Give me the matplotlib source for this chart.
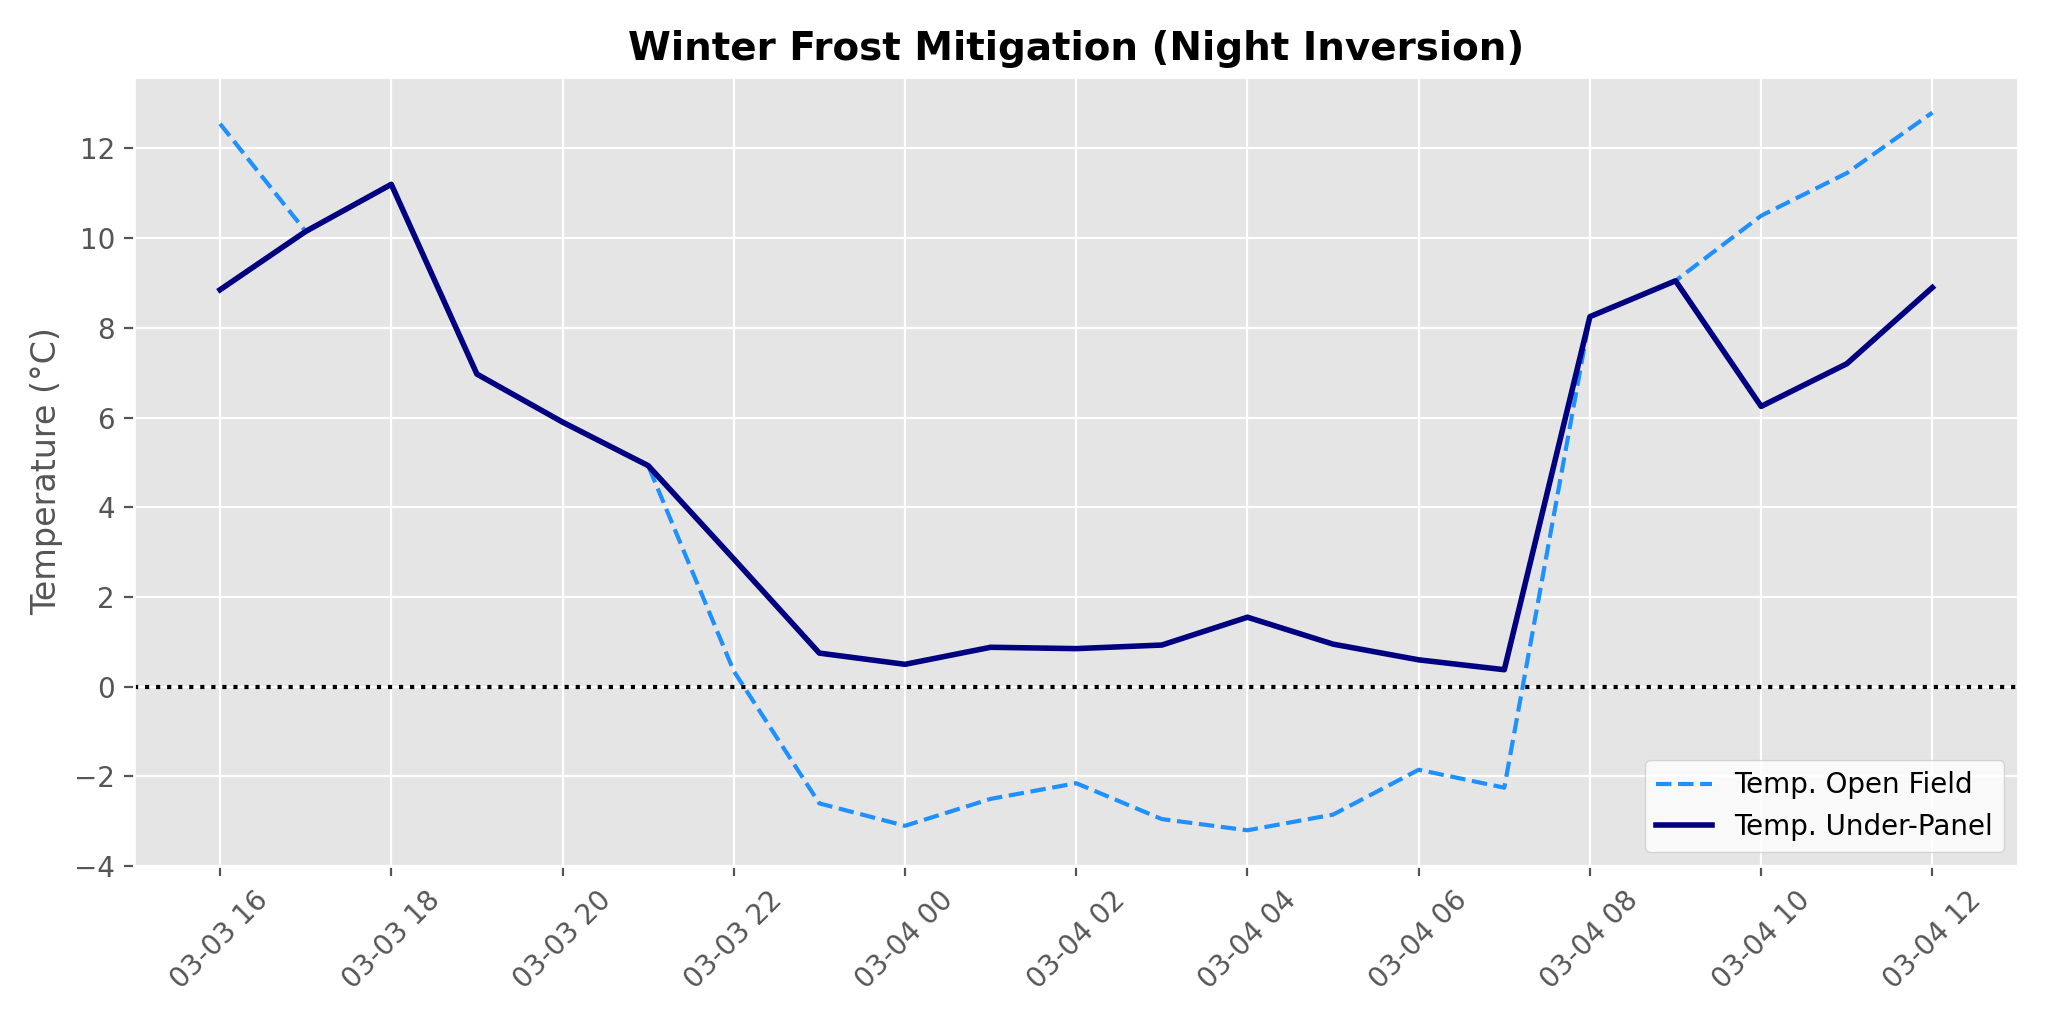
import numpy as np
import pandas as pd
import matplotlib
matplotlib.use("Agg")
import matplotlib.pyplot as plt
import matplotlib.dates as mdates

# hourly readings, 03-03 16:00 -> 03-04 12:00
times = pd.date_range("2024-03-03 16:00", "2024-03-04 12:00", freq="h")

temp_open = [12.55, 10.15, 11.2, 6.97, 5.9, 4.93, 0.35, -2.6, -3.1, -2.5, -2.15,
             -2.95, -3.2, -2.85, -1.85, -2.25, 8.25, 9.05, 10.5, 11.45, 12.8]
temp_panel = [8.85, 10.15, 11.2, 6.97, 5.9, 4.93, 2.85, 0.75, 0.5, 0.88, 0.85,
              0.93, 1.55, 0.95, 0.6, 0.38, 8.25, 9.05, 6.25, 7.2, 8.9]

plt.style.use("ggplot")
fig, ax = plt.subplots(figsize=(10.24, 5.12), dpi=200)

ax.plot(times, temp_open, color="dodgerblue", ls="--", lw=1.5, label="Temp. Open Field")
ax.plot(times, temp_panel, color="navy", lw=2, label="Temp. Under-Panel")
ax.axhline(0, color="black", ls=":", lw=1.5)

ax.xaxis.set_major_locator(mdates.HourLocator(byhour=range(0, 24, 2)))
ax.xaxis.set_major_formatter(mdates.DateFormatter("%m-%d %H"))
plt.setp(ax.get_xticklabels(), rotation=45)

ax.set_title("Winter Frost Mitigation (Night Inversion)", fontsize=14, fontweight="bold")
ax.set_ylabel("Temperature (°C)")
ax.legend(loc="lower right", facecolor="white")

plt.tight_layout()
plt.savefig("out.png")
